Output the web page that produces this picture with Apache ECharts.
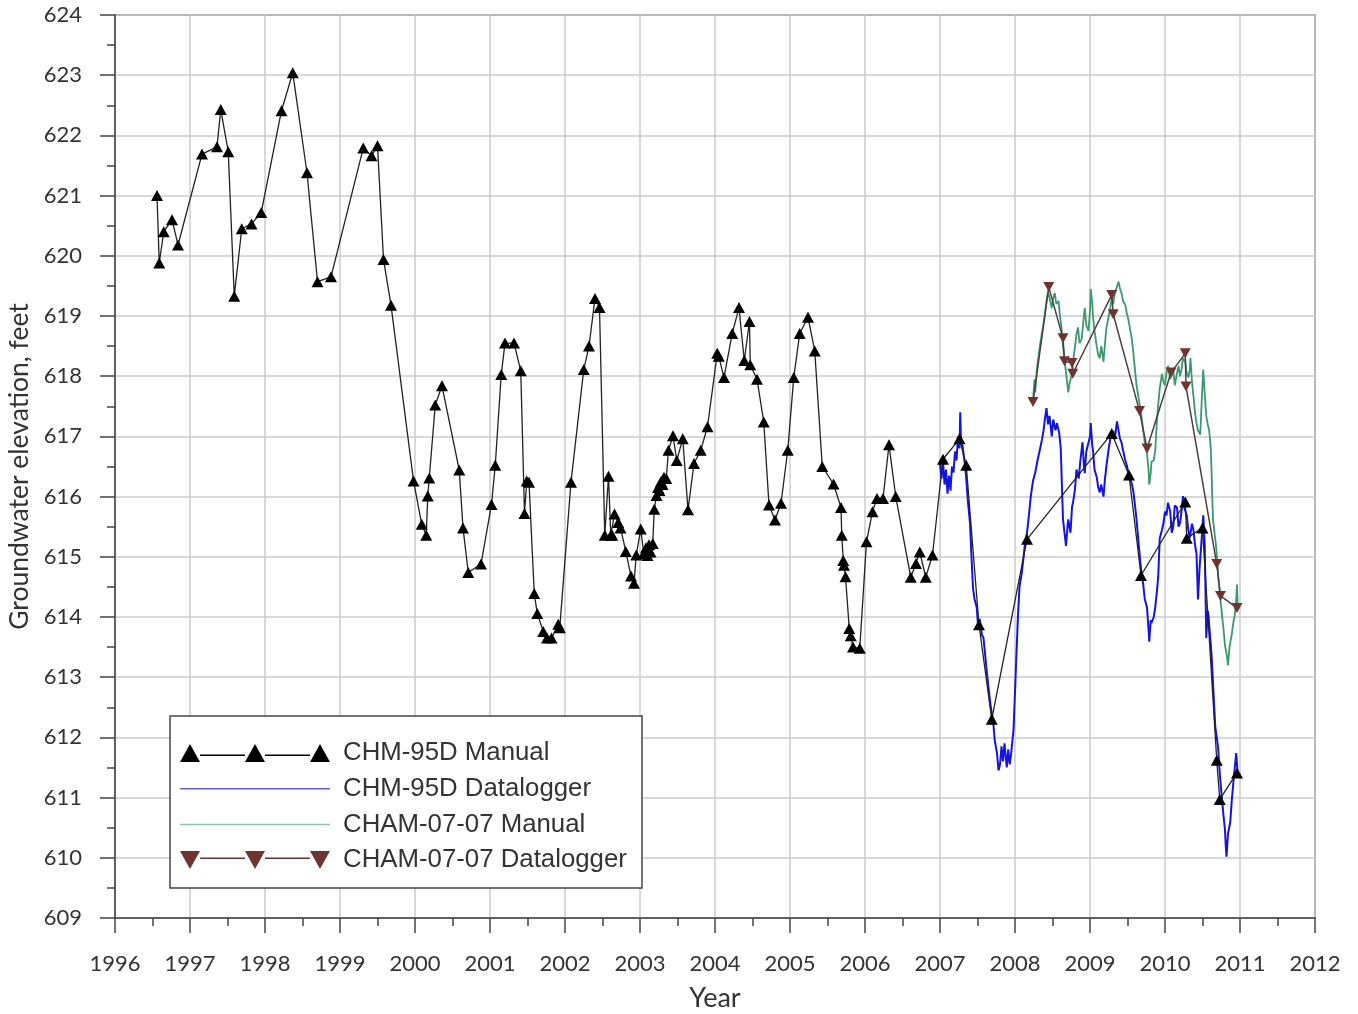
<!DOCTYPE html>
<html>
<head>
<meta charset="utf-8">
<script src="https://cdn.jsdelivr.net/npm/echarts@6/dist/echarts.min.js"></script>
<style>html,body{margin:0;padding:0;background:#fff;}#c{width:1358px;height:1014px;}</style>
</head>
<body>
<div id="c"></div>
<script>
// ---- Data (decimal year, elevation in feet) ----
const chm95dManualDates = [1996.56,1996.59,1996.65,1996.76,1996.84,1997.16,1997.36,1997.41,1997.51,1997.59,1997.69,1997.82,1997.95,1998.22,1998.37,1998.56,1998.70,1998.88,1999.31,1999.42,1999.50,1999.58,1999.68,1999.98,2000.09,2000.15,2000.17,2000.19,2000.27,2000.36,2000.59,2000.64,2000.71,2000.88,2001.02,2001.07,2001.15,2001.20,2001.32,2001.41,2001.46,2001.49,2001.52,2001.59,2001.63,2001.71,2001.76,2001.82,2001.91,2001.93,2002.08,2002.25,2002.32,2002.40,2002.46,2002.53,2002.58,2002.61,2002.63,2002.66,2002.71,2002.74,2002.81,2002.88,2002.92,2002.95,2003.01,2003.05,2003.08,2003.10,2003.12,2003.14,2003.17,2003.19,2003.22,2003.24,2003.26,2003.28,2003.30,2003.32,2003.35,2003.38,2003.44,2003.49,2003.57,2003.64,2003.72,2003.81,2003.90,2004.03,2004.05,2004.12,2004.23,2004.32,2004.39,2004.46,2004.47,2004.56,2004.65,2004.72,2004.80,2004.88,2004.97,2005.05,2005.13,2005.24,2005.33,2005.43,2005.58,2005.68,2005.69,2005.71,2005.72,2005.74,2005.79,2005.81,2005.84,2005.93,2006.02,2006.10,2006.16,2006.24,2006.32,2006.41,2006.61,2006.68,2006.73,2006.81,2006.90,2007.04,2007.26,2007.35,2007.52,2007.69,2008.16,2009.29,2009.52,2009.68,2010.27,2010.29,2010.50,2010.69,2010.73,2010.96];
const chm95dManualValues = [621.00,619.88,620.40,620.60,620.18,621.69,621.81,622.43,621.73,619.33,620.45,620.53,620.72,622.41,623.04,621.38,619.57,619.65,621.79,621.66,621.83,619.94,619.18,616.26,615.54,615.36,616.01,616.31,617.52,617.84,616.44,615.48,614.74,614.88,615.87,616.52,618.03,618.55,618.55,618.09,615.72,616.26,616.24,614.39,614.06,613.76,613.65,613.65,613.88,613.82,616.24,618.11,618.50,619.29,619.14,615.36,616.34,615.36,615.36,615.71,615.57,615.48,615.09,614.68,614.56,615.03,615.46,615.05,615.15,615.02,615.20,615.08,615.22,615.79,616.02,616.15,616.10,616.25,616.20,616.32,616.30,616.77,617.01,616.60,616.96,615.78,616.55,616.77,617.16,618.38,618.33,617.98,618.71,619.14,618.26,618.91,618.19,617.95,617.24,615.86,615.61,615.89,616.77,617.98,618.71,618.98,618.42,616.50,616.21,615.82,615.36,614.94,614.86,614.67,613.81,613.69,613.50,613.48,615.25,615.75,615.97,615.97,616.86,616.00,614.66,614.89,615.08,614.66,615.03,616.62,616.96,616.52,613.87,612.30,615.29,617.05,616.36,614.69,615.91,615.31,615.48,611.62,610.97,611.41];

const chm95dLoggerDates = [2007.00,2007.02,2007.04,2007.06,2007.08,2007.10,2007.12,2007.14,2007.16,2007.18,2007.20,2007.22,2007.24,2007.26,2007.27,2007.28,2007.30,2007.33,2007.35,2007.37,2007.40,2007.42,2007.44,2007.46,2007.49,2007.51,2007.53,2007.56,2007.58,2007.60,2007.62,2007.64,2007.67,2007.69,2007.71,2007.73,2007.76,2007.78,2007.80,2007.82,2007.84,2007.86,2007.89,2007.91,2007.93,2007.95,2007.98,2008.00,2008.02,2008.04,2008.06,2008.09,2008.11,2008.13,2008.16,2008.18,2008.21,2008.24,2008.27,2008.30,2008.33,2008.36,2008.38,2008.40,2008.42,2008.44,2008.46,2008.49,2008.51,2008.54,2008.56,2008.59,2008.61,2008.62,2008.64,2008.66,2008.68,2008.70,2008.71,2008.74,2008.76,2008.78,2008.80,2008.82,2008.85,2008.87,2008.90,2008.92,2008.93,2008.95,2008.98,2009.00,2009.01,2009.03,2009.04,2009.06,2009.09,2009.11,2009.13,2009.15,2009.18,2009.20,2009.22,2009.25,2009.27,2009.29,2009.31,2009.33,2009.36,2009.38,2009.40,2009.42,2009.44,2009.47,2009.49,2009.51,2009.53,2009.56,2009.58,2009.60,2009.62,2009.65,2009.67,2009.69,2009.71,2009.73,2009.76,2009.78,2009.79,2009.81,2009.82,2009.85,2009.87,2009.89,2009.91,2009.92,2009.93,2009.96,2009.98,2010.00,2010.02,2010.04,2010.07,2010.09,2010.11,2010.13,2010.16,2010.18,2010.20,2010.22,2010.24,2010.26,2010.29,2010.31,2010.33,2010.36,2010.38,2010.40,2010.42,2010.44,2010.46,2010.49,2010.51,2010.53,2010.55,2010.57,2010.58,2010.60,2010.62,2010.64,2010.67,2010.69,2010.71,2010.73,2010.76,2010.78,2010.80,2010.81,2010.82,2010.84,2010.87,2010.89,2010.91,2010.93,2010.95,2010.97];
const chm95dLoggerValues = [616.55,616.30,616.60,616.20,616.45,616.05,616.35,616.10,616.50,616.40,616.75,616.60,617.00,616.80,617.40,616.90,616.85,616.55,616.30,615.95,615.56,615.00,614.48,614.30,614.16,613.80,613.97,613.70,613.65,613.40,613.14,612.90,612.57,612.40,612.25,611.95,611.74,611.45,611.55,611.85,611.60,611.90,611.50,611.80,611.55,611.75,612.12,612.76,613.40,614.03,614.50,614.73,614.95,615.18,615.40,615.62,616.00,616.26,616.40,616.60,616.77,616.95,617.09,617.30,617.47,617.20,617.34,617.00,617.28,617.10,617.22,617.05,616.80,616.40,615.62,615.40,615.18,615.50,615.62,615.40,615.82,615.95,616.13,616.45,616.30,616.58,616.90,616.50,616.39,616.75,616.90,617.00,617.22,616.85,616.77,616.45,616.32,616.15,616.07,616.20,616.00,616.30,616.52,616.80,616.96,617.05,617.09,616.95,617.25,617.10,616.96,616.90,616.77,616.60,616.52,616.40,616.32,616.20,616.07,615.85,615.62,615.20,614.92,614.70,614.54,614.30,614.16,613.80,613.59,613.95,613.90,614.00,614.16,614.40,614.67,615.00,615.31,615.45,615.56,615.75,615.69,615.90,615.75,615.40,615.50,615.85,615.82,615.50,615.56,615.75,616.01,615.80,615.69,615.45,615.31,615.55,615.44,615.20,615.05,614.29,614.80,615.31,615.69,615.20,613.65,614.10,614.03,613.70,613.39,612.90,612.18,612.00,611.80,611.40,610.97,610.70,610.46,610.20,610.02,610.40,610.59,610.95,611.23,611.50,611.74,611.36];

const cham0707ManualDates = [2008.24,2008.26,2008.27,2008.29,2008.31,2008.33,2008.35,2008.38,2008.40,2008.42,2008.44,2008.46,2008.49,2008.51,2008.53,2008.55,2008.58,2008.60,2008.62,2008.64,2008.67,2008.69,2008.71,2008.73,2008.76,2008.78,2008.80,2008.82,2008.84,2008.86,2008.89,2008.91,2008.93,2008.95,2008.98,2009.00,2009.01,2009.03,2009.04,2009.06,2009.09,2009.11,2009.13,2009.15,2009.18,2009.20,2009.22,2009.25,2009.27,2009.29,2009.31,2009.33,2009.35,2009.38,2009.40,2009.42,2009.44,2009.47,2009.49,2009.51,2009.53,2009.56,2009.58,2009.60,2009.62,2009.64,2009.67,2009.69,2009.71,2009.73,2009.76,2009.78,2009.79,2009.81,2009.82,2009.85,2009.87,2009.89,2009.91,2009.93,2009.96,2009.98,2010.00,2010.02,2010.04,2010.07,2010.09,2010.11,2010.13,2010.16,2010.18,2010.20,2010.22,2010.24,2010.27,2010.29,2010.31,2010.33,2010.34,2010.36,2010.38,2010.40,2010.42,2010.44,2010.47,2010.49,2010.51,2010.53,2010.55,2010.57,2010.59,2010.61,2010.62,2010.63,2010.64,2010.66,2010.68,2010.70,2010.71,2010.73,2010.76,2010.78,2010.80,2010.82,2010.84,2010.86,2010.89,2010.91,2010.93,2010.95,2010.96,2010.97];
const cham0707ManualValues = [617.60,617.95,617.73,618.10,618.30,618.49,618.65,618.87,619.05,619.25,619.40,619.30,619.13,619.30,619.38,619.20,619.25,619.00,618.81,618.50,618.17,617.95,617.73,617.90,618.04,618.30,618.49,618.70,618.81,618.55,618.62,618.90,619.13,618.85,618.75,619.10,619.45,619.20,619.00,618.75,618.49,618.35,618.30,618.50,618.24,618.55,618.81,619.00,619.13,619.30,619.20,619.38,619.45,619.57,619.45,619.38,619.25,619.19,619.05,618.95,618.81,618.60,618.36,618.10,617.85,617.70,617.47,617.30,617.09,616.90,616.71,616.45,616.20,616.40,616.58,616.60,616.77,617.20,617.54,617.80,618.04,617.90,617.85,618.05,618.17,617.95,617.98,618.10,617.85,618.05,618.17,618.00,618.11,618.30,618.24,618.05,617.98,618.10,618.30,617.90,617.66,617.40,617.22,617.10,617.03,617.60,618.11,617.70,617.34,617.20,617.09,616.80,616.45,616.00,615.62,615.40,615.18,614.90,614.67,614.40,614.03,613.80,613.52,613.40,613.20,613.50,613.71,613.90,614.03,614.30,614.54,614.16];

const cham0707LoggerDates = [2008.24,2008.45,2008.64,2008.66,2008.76,2008.77,2009.29,2009.31,2009.66,2009.76,2010.08,2010.27,2010.28,2010.69,2010.74,2010.96];
const cham0707LoggerValues = [617.57,619.48,618.63,618.25,618.22,618.04,619.35,619.03,617.42,616.80,618.06,618.38,617.83,614.88,614.35,614.15];

const seriesNames = ['CHM-95D Manual','CHM-95D Datalogger','CHAM-07-07 Manual','CHAM-07-07 Datalogger'];

function pairs(xs, ys){ return xs.map((x,i)=>[x, ys[i]]); }

const upIcon = 'path://M0,18L10,0L20,18Z M65,18L75,0L85,18Z M130,18L140,0L150,18Z M20,10.5L65,10.5L65,12L20,12Z M85,10.5L130,10.5L130,12L85,12Z';
const downIcon = 'path://M0,0L20,0L10,18Z M65,0L85,0L75,18Z M130,0L150,0L140,18Z M20,6.5L65,6.5L65,8L20,8Z M85,6.5L130,6.5L130,8L85,8Z';
const lineIcon = 'path://M0,0L150,0L0,0Z M0,8.3L150,8.3L150,9.8L0,9.8Z M0,18L150,18L0,18Z';

const chart = echarts.init(document.getElementById('c'), null, {renderer:'canvas'});
const txt = '#333';
chart.setOption({
  animation: false,
  backgroundColor: '#fff',
  grid: {left:115, right:43, top:15, bottom:96, containLabel:false, outerBoundsMode:'none',
         show:true, borderColor:'#555', borderWidth:1.5, backgroundColor:'transparent'},
  xAxis: {
    type:'value', min:1996, max:2012, interval:1,
    name:'Year', nameLocation:'middle', nameGap:67,
    nameTextStyle:{fontFamily:'Lato', fontSize:27, color:txt},
    axisLine:{show:true, lineStyle:{color:'#444', width:1.5}},
    axisTick:{show:true, length:15, lineStyle:{color:'#444', width:1.5}},
    minorTick:{show:true, splitNumber:2, length:8, lineStyle:{color:'#444', width:1.5}},
    axisLabel:{fontFamily:'Lato', fontSize:22, color:txt, margin:35, formatter:v=>String(v)},
    splitLine:{show:true, lineStyle:{color:'#cdcdcd', width:1.5}}
  },
  yAxis: {
    type:'value', min:609, max:624, interval:1,
    name:'Groundwater elevation, feet', nameLocation:'middle', nameGap:80, nameRotate:90,
    nameTextStyle:{fontFamily:'Lato', fontSize:26.5, color:txt},
    axisLine:{show:true, lineStyle:{color:'#444', width:1.5}},
    axisTick:{show:true, length:15, lineStyle:{color:'#444', width:1.5}},
    minorTick:{show:true, splitNumber:2, length:8, lineStyle:{color:'#444', width:1.5}},
    axisLabel:{fontFamily:'Lato', fontSize:22, color:txt, margin:33},
    splitLine:{show:true, lineStyle:{color:'#cdcdcd', width:1.5}}
  },
  legend: {
    orient:'vertical', left:170, top:716,
    padding:[24,14,15,10], itemGap:9.7,
    itemWidth:150, itemHeight:18,
    backgroundColor:'#fff', borderColor:'#444', borderWidth:1.5,
    textStyle:{fontFamily:'Liberation Sans', fontSize:25.8, color:txt, width:285, lineHeight:26, padding:[0,0,0,8]},
    data:[
      {name:seriesNames[0], icon:upIcon},
      {name:seriesNames[1], icon:lineIcon},
      {name:seriesNames[2], icon:lineIcon},
      {name:seriesNames[3], icon:downIcon}
    ]
  },
  series: [
    {
      name:seriesNames[1], type:'line', data:pairs(chm95dLoggerDates, chm95dLoggerValues),
      symbol:'none', lineStyle:{color:'#1414e0', width:2}, itemStyle:{color:'#6363d6'}, z:2
    },
    {
      name:seriesNames[2], type:'line', data:pairs(cham0707ManualDates, cham0707ManualValues),
      symbol:'none', lineStyle:{color:'#3a9a6e', width:1.8}, itemStyle:{color:'#8fc2ac'}, z:2
    },
    {
      name:seriesNames[0], type:'line', data:pairs(chm95dManualDates, chm95dManualValues),
      symbol:'triangle', symbolSize:[12,11], showAllSymbol:true,
      lineStyle:{color:'#222', width:1.3}, itemStyle:{color:'#000', borderWidth:0}, z:3
    },
    {
      name:seriesNames[3], type:'line', data:pairs(cham0707LoggerDates, cham0707LoggerValues),
      symbol:'triangle', symbolRotate:180, symbolSize:[11,10], showAllSymbol:true,
      lineStyle:{color:'#4a4040', width:1.5}, itemStyle:{color:'#6e3530', borderWidth:0}, z:4
    }
  ]
});
</script>
</body>
</html>
